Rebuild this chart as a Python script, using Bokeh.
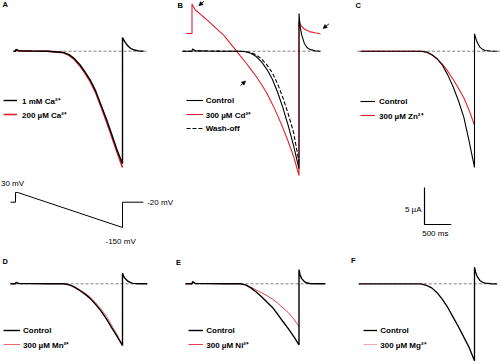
from bokeh.plotting import figure
from bokeh.layouts import column, row
from bokeh.models import Range1d, Legend, LegendItem, Label, Arrow, NormalHead
from bokeh.embed import file_html
from bokeh.resources import INLINE

# ---------------- data ----------------
# time in ms: 0 = step to +30 mV, ramp to -150 mV ends at 2000 ms, then -20 mV
T_RAMP = [0, 10, 60, 300, 600, 900, 1000, 1100, 1200, 1300, 1400, 1500, 1600, 1700, 1800, 1900, 2000]
T_TAIL = [2000, 2020, 2050, 2100, 2150, 2200, 2300]

# currents in µA
A_CA1MM = [0, 0.25, 0.05, 0.02, 0, -0.18, -0.47, -1.0, -1.8, -2.8, -3.93, -5.4, -7.3, -9.2, -11.25, -13.4, -15.2]
A_CA1MM_TAIL = [1.85, 1.55, 1.2, 0.72, 0.4, 0.2, 0.04]
A_CA200 = [0, 0.2, 0.05, 0.02, 0, -0.22, -0.55, -1.12, -1.95, -3.0, -4.15, -5.65, -7.55, -9.5, -11.6, -13.7, -15.7]

B_CTRL = [0, 0.3, 0.05, 0.02, 0, 0, -0.08, -0.28, -0.72, -1.45, -2.45, -3.75, -5.55, -7.65, -10.1, -12.8, -15.9]
B_CTRL_TAIL = [5.1, 3.4, 2.2, 1.05, 0.5, 0.25, 0.05]
B_CD_HOLD = 2.39
B_CD = [6.4, 6.2, 5.6, 4.1, 2.1, -0.6, -1.49, -2.45, -3.42, -4.5, -5.68, -7.12, -8.67, -10.4, -12.24, -14.24, -16.8]
B_CD_TAIL = [4.15, 3.75, 3.35, 3.0, 2.8, 2.65, 2.5]
B_CD_END = 2.35
B_WASH = [0, 0.3, 0.05, 0.02, 0, 0, -0.05, -0.2, -0.5, -1.05, -1.85, -2.9, -4.4, -6.3, -8.5, -11.0, -15.0]

C_CTRL = [0, 0, 0, 0, 0, 0, 0, -0.12, -0.45, -1.0, -1.9, -3.2, -4.8, -6.7, -8.9, -12.2, -15.7]
C_CTRL_TAIL = [2.35, 1.85, 1.2, 0.55, 0.25, 0.1, 0.02]
C_ZN = [0, 0, 0, 0, 0, 0, 0, -0.1, -0.5, -1.05, -1.75, -2.7, -3.8, -5.0, -6.3, -8.0, -10.0]

D_CTRL = [0, 0.2, 0.05, 0.02, 0, 0, -0.12, -0.45, -0.9, -1.4, -2.0, -2.8, -3.7, -4.75, -5.95, -7.1, -8.35]
D_CTRL_TAIL = [1.43, 1.05, 0.7, 0.35, 0.15, 0.06, 0.01]
D_MN = [0, 0.2, 0.05, 0.02, 0, 0, -0.1, -0.38, -0.78, -1.25, -1.8, -2.55, -3.4, -4.4, -5.6, -6.9, -8.3]

E_CTRL = [0, 0.3, 0.05, 0.02, 0, 0, -0.15, -0.55, -1.1, -1.75, -2.45, -3.16, -4.1, -5.1, -6.05, -7.1, -8.25]
E_CTRL_TAIL = [1.9, 1.2, 0.7, 0.3, 0.1, 0.04, 0.01]
E_NI = [0, 0.3, 0.05, 0.02, 0, 0, -0.12, -0.45, -0.85, -1.2, -1.6, -2.05, -2.6, -3.25, -3.9, -4.75, -5.75]

F_CTRL = [0, 0, 0, 0, 0, 0, 0, -0.2, -0.55, -1.2, -2.1, -3.2, -4.5, -5.8, -7.2, -8.6, -10.4]
F_CTRL_TAIL = [2.24, 1.6, 1.0, 0.45, 0.2, 0.08, 0.01]
F_MG = [0, 0, 0, 0, 0, 0, 0, -0.2, -0.55, -1.2, -2.1, -3.2, -4.5, -5.8, -7.2, -8.6, -10.4]

TRACE_START = {"A": -37, "B": -178, "C": -131, "D": -93, "E": -121, "F": -163}
B_CD_START = -108
TRACE_END = {"A": 2393, "B": 2402, "C": 2424, "D": 2461, "E": 2495, "F": 2424}
BASELINE = {"A": (-37, 2467), "B": (-178, 2402), "C": (-193, 2486),
            "D": (-93, 2467), "E": (-121, 2495), "F": (-163, 2425)}

# voltage protocol
V_T = [-93, 0, 0, 40, 2000, 2000, 2390]
V_MV = [-20, -20, 30, 30, -150, -20, -20]
V_LABELS = ["30 mV", "-20 mV", "-150 mV"]

SCALE_T = 500   # ms
SCALE_I = 5     # µA

# ---------------- layout constants ----------------
SX = 1.0
SY = 1.0
S = 1.0
KX = 0.0535   # px per ms
KY = 7.4      # px per µA
KV = 0.1944   # px per mV
FONT = "Liberation Sans"
FS = f"{8 * S:.2f}px"
LEG_DY = 0

BOX = {"A": (0, 0, 165, 179), "B": (165, 0, 165, 179), "C": (330, 0, 170, 179),
       "D": (0, 250, 165, 114), "E": (165, 250, 165, 114), "F": (330, 250, 170, 114)}
WPX = {"A": 165, "B": 165, "C": 170, "D": 165, "E": 165, "F": 170}
HPX = {"A": 179, "B": 179, "C": 179, "D": 114, "E": 114, "F": 114}
TX0 = {"A": 15, "B": 191.5, "C": 367, "D": 15, "E": 191.5, "F": 367}
YB = {"A": 50.7, "B": 50.7, "C": 50.7, "D": 283.3, "E": 283.3, "F": 283.3}
LETTER = {"A": (2, 3.5), "B": (177, 5), "C": (355, 4.7), "D": (2, 260.5), "E": (175.5, 262), "F": (350.5, 260.3)}


def new_fig(w, h, xr, yr):
    p = figure(width=w, height=h, x_range=xr, y_range=yr, output_backend="svg",
               toolbar_location=None, x_axis_location=None, y_axis_location=None,
               min_border=0, outline_line_color=None,
               background_fill_color="white", border_fill_color="white")
    p.grid.visible = False
    return p


def trace(t_start, hold, ramp, tail=None, t_end=None, end_val=0.0):
    t = [t_start, 0] + T_RAMP
    y = [hold, hold] + list(ramp)
    if tail is not None:
        t += T_TAIL + [t_end]
        y += list(tail) + [end_val]
    return t, y


def panel(key):
    bx, by, bw, bh = BOX[key]
    tx0, yb = TX0[key], YB[key]
    p = new_fig(WPX[key], HPX[key],
                Range1d((bx - tx0) / KX, (bx + bw - tx0) / KX),
                Range1d(-(by + bh - yb) / KY, (yb - by) / KY))
    b0, b1 = BASELINE[key]
    p.line([b0, b1], [0, 0], line_color="#808080", line_width=1, line_dash="3 2")
    lx, ly = LETTER[key]
    p.add_layout(Label(x=(lx - tx0) / KX, y=(yb - ly) / KY, text=key, text_font=FONT,
                       text_font_size=f"{7.5 * S:.2f}px", text_font_style="bold",
                       text_baseline="middle", text_align="left", text_color="black"))
    return p


def to_data(key, px, py):
    return (px - TX0[key]) / KX, (YB[key] - py) / KY


def add_legend(p, key, items, x, y, gw, standoff, item_h=14):
    bx, by, bw, bh = BOX[key]
    leg = Legend(items=[LegendItem(label=l, renderers=[r]) for l, r in items],
                 location=((x - bx) * SX, (by + bh - y) * SY - LEG_DY),
                 glyph_width=int(round(gw * SX)), glyph_height=int(round(item_h * SY)),
                 label_height=int(round(item_h * SY)), label_standoff=standoff,
                 spacing=0, padding=0, margin=0,
                 border_line_alpha=0, background_fill_alpha=0,
                 label_text_font=FONT, label_text_font_size=FS,
                 label_text_font_style="bold", label_text_color="black")
    p.add_layout(leg)


RED = "#e2202c"

# ---- A ----
pA = panel("A")
t, y = trace(TRACE_START["A"], 0, A_CA200)
rA2 = pA.line(t, y, line_color=RED, line_width=1.6)
t, y = trace(TRACE_START["A"], 0, A_CA1MM, A_CA1MM_TAIL, TRACE_END["A"])
rA1 = pA.line(t, y, line_color="black", line_width=1.4)
add_legend(pA, "A", [("1 mM Ca²⁺", rA1), ("200 µM Ca²⁺", rA2)], 3, 121, 14, 5)

# ---- B ----
pB = panel("B")
t, y = trace(B_CD_START, B_CD_HOLD, B_CD, B_CD_TAIL, TRACE_END["B"], B_CD_END)
rB2 = pB.line(t, y, line_color=RED, line_width=1.1)
t, y = trace(TRACE_START["B"], 0, B_WASH)
rB3 = pB.line(t, y, line_color="black", line_width=1.1, line_dash="4 2")
t, y = trace(TRACE_START["B"], 0, B_CTRL, B_CTRL_TAIL, TRACE_END["B"])
rB1 = pB.line(t, y, line_color="black", line_width=1.1)
add_legend(pB, "B", [("Control", rB1), ("300 µM Cd²⁺", rB2), ("Wash-off", rB3)], 185.7, 135, 17, 3)
for (x0, y0, x1, y1) in [(203.5, 0.8, 198.3, 5.2), (328.5, 23.3, 322.5, 28.0), (240.0, 85.0, 245.2, 80.5)]:
    xs, ys = to_data("B", x0, y0)
    xe, ye = to_data("B", x1, y1)
    pB.add_layout(Arrow(end=NormalHead(size=4 * S, fill_color="black", line_color="black", line_width=0.5),
                        x_start=xs, y_start=ys, x_end=xe, y_end=ye, line_width=0.9, line_color="black"))

# ---- C ----
pC = panel("C")
t, y = trace(TRACE_START["C"], 0, C_ZN)
rC2 = pC.line(t, y, line_color=RED, line_width=1.1)
t, y = trace(TRACE_START["C"], 0, C_CTRL, C_CTRL_TAIL, TRACE_END["C"])
rC1 = pC.line(t, y, line_color="black", line_width=1.1)
add_legend(pC, "C", [("Control", rC1), ("300 µM Zn²⁺", rC2)], 360, 122, 15, 4)

# ---- D ----
pD = panel("D")
t, y = trace(TRACE_START["D"], 0, D_MN)
rD2 = pD.line(t, y, line_color="#ea6a72", line_width=1.0)
t, y = trace(TRACE_START["D"], 0, D_CTRL, D_CTRL_TAIL, TRACE_END["D"])
rD1 = pD.line(t, y, line_color="black", line_width=1.4)
add_legend(pD, "D", [("Control", rD1), ("300 µM Mn²⁺", rD2)], 3, 351.1, 17, 3, 13.6)

# ---- E ----
pE = panel("E")
t, y = trace(TRACE_START["E"], 0, E_NI)
rE2 = pE.line(t, y, line_color="#e2404c", line_width=1.0)
t, y = trace(TRACE_START["E"], 0, E_CTRL, E_CTRL_TAIL, TRACE_END["E"])
rE1 = pE.line(t, y, line_color="black", line_width=1.4)
add_legend(pE, "E", [("Control", rE1), ("300 µM Ni²⁺", rE2)], 188.3, 351.1, 15, 3, 13.6)

# ---- F ----
pF = panel("F")
t, y = trace(TRACE_START["F"], 0, F_MG)
rF2 = pF.line(t, y, line_color="#f2a4aa", line_width=1.0)
t, y = trace(TRACE_START["F"], 0, F_CTRL, F_CTRL_TAIL, TRACE_END["F"])
rF1 = pF.line(t, y, line_color="black", line_width=1.3)
add_legend(pF, "F", [("Control", rF1), ("300 µM Mg²⁺", rF2)], 363.3, 351.1, 14, 3, 13.6)

# ---- middle row: voltage protocol + scale bar ----
MID_BOX = (0, 179, 500, 71)
MID_TX0 = 15
V_REF_Y = 201.7     # y of -20 mV
I_REF_Y = 224.0     # y of scale-bar zero
bx, by, bw, bh = MID_BOX
pM = new_fig(500, 71,
             Range1d((bx - MID_TX0) / KX, (bx + bw - MID_TX0) / KX),
             Range1d(-20 - (by + bh - V_REF_Y) / KV, -20 + (V_REF_Y - by) / KV))
pM.extra_y_ranges = {"cur": Range1d(-(by + bh - I_REF_Y) / KY, (I_REF_Y - by) / KY)}
pM.line(V_T, V_MV, line_color="black", line_width=1.0)


def mid_label(text, px, py, align="left"):
    pM.add_layout(Label(x=(px - MID_TX0) / KX, y=-20 + (V_REF_Y - py) / KV, text=text,
                        text_font=FONT, text_font_size=FS, text_baseline="middle",
                        text_align=align, text_color="black"))


mid_label(V_LABELS[0], 0.5, 182.7)
mid_label(V_LABELS[1], 146.7, 202.3)
mid_label(V_LABELS[2], 105, 240.7)

sb_t0 = (424 - MID_TX0) / KX
pM.line([sb_t0, sb_t0, sb_t0 + SCALE_T], [SCALE_I, 0, 0], line_color="black",
        line_width=1.2, y_range_name="cur")
mid_label(f"{SCALE_I} µA", 421, 209.3, align="right")
mid_label(f"{SCALE_T} ms", 421.7, 232.7)

layout = column(row(pA, pB, pC), pM, row(pD, pE, pF))

open("out.html", "w").write(file_html(layout, INLINE))
